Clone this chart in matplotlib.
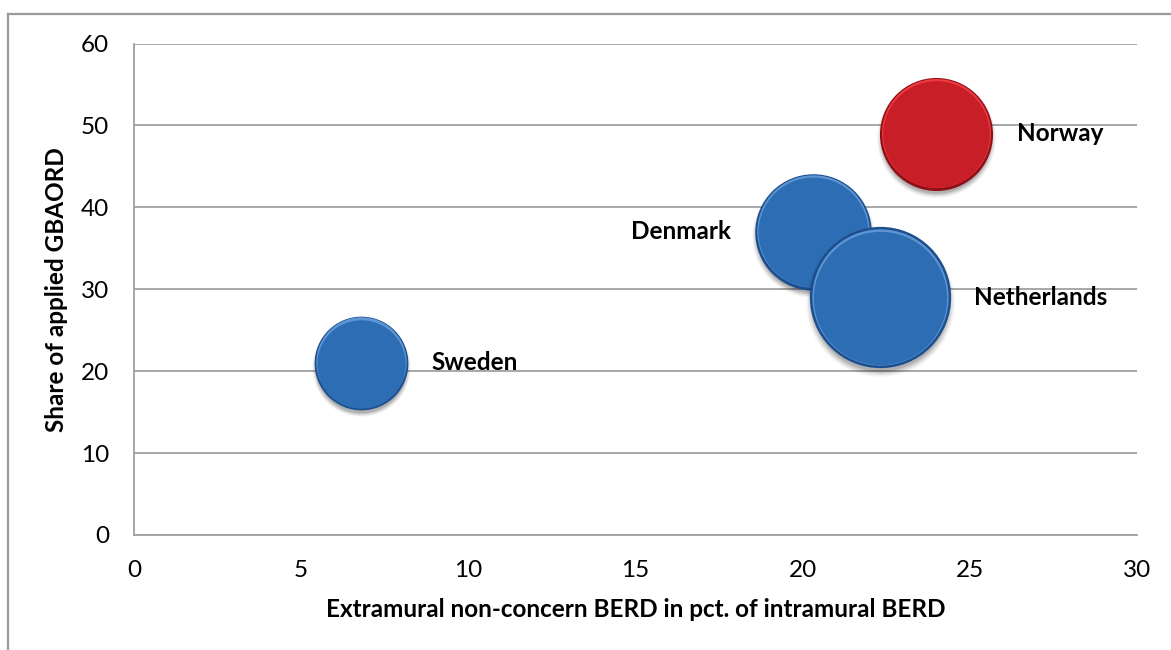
import matplotlib
matplotlib.use("Agg")
import matplotlib.pyplot as plt
import numpy as np
from matplotlib.transforms import offset_copy
from matplotlib.lines import Line2D

plt.rcParams['font.family'] = ['Lato', 'DejaVu Sans']

# data
countries = ['Sweden', 'Denmark', 'Netherlands', 'Norway']
extramural = [6.8, 20.3, 22.3, 24.0]     # x: pct. of intramural BERD
applied = [21.0, 37.0, 29.0, 49.0]       # y: share of applied GBAORD
bubble = [22, 34, 50, 32]                # bubble size (area)
label_side = ['right', 'left', 'right', 'right']
colours = ['blue', 'blue', 'blue', 'red']

palette = {
    'blue': {'edge': '#1d4f8e', 'face': '#2d6db4', 'light': '#5d95d3'},
    'red': {'edge': '#8f1016', 'face': '#c81e27', 'light': '#ee3a40'},
}

fig = plt.figure(figsize=(11.71, 6.5), dpi=100)
ax = fig.add_axes([0.1144, 0.177, 0.8566, 0.756])

x = np.array(extramural)
y = np.array(applied)
s = np.array(bubble) * 207.0   # marker area in pt^2

# outer chart frame (cut off at right and bottom like the reference)
fig.add_artist(Line2D([8 / 1171, 8 / 1171], [1 - 14 / 650, 0], transform=fig.transFigure,
                      color='#9a9a9a', lw=1.6))
fig.add_artist(Line2D([8 / 1171, 1], [1 - 14 / 650, 1 - 14 / 650], transform=fig.transFigure,
                      color='#9a9a9a', lw=1.6))

def shifted(dy):
    return offset_copy(ax.transData, fig=fig, x=0, y=dy, units='points')

# draw bubbles one by one so later ones overlap earlier ones
for i in range(len(countries)):
    c = palette[colours[i]]
    z = 3 + i * 10
    # soft shadow
    for f, a in [(1.10, 0.05), (1.05, 0.07), (1.0, 0.10), (0.95, 0.12)]:
        ax.scatter([x[i]], [y[i]], s=s[i] * f, color='black', alpha=a, lw=0,
                   transform=shifted(-3), zorder=z)
    ax.scatter([x[i]], [y[i]], s=s[i], color=c['edge'], lw=0, zorder=z + 1)
    ax.scatter([x[i]], [y[i]], s=s[i] * 0.93, color=c['light'], lw=0,
               transform=shifted(0.6), zorder=z + 2)
    ax.scatter([x[i]], [y[i]], s=s[i] * 0.89, color=c['face'], lw=0,
               transform=shifted(-0.4), zorder=z + 3)
    ax.scatter([x[i]], [y[i]], s=s[i] * 0.80, color=c['face'], lw=0,
               transform=shifted(-0.8), zorder=z + 4)

    r_pt = np.sqrt(s[i]) / 2
    if label_side[i] == 'right':
        ax.annotate(countries[i], (x[i], y[i]), xytext=(r_pt + 17, 0), textcoords='offset points',
                    ha='left', va='center', fontsize=17.5, fontweight='bold', zorder=100)
    else:
        ax.annotate(countries[i], (x[i], y[i]), xytext=(-r_pt - 17, 0), textcoords='offset points',
                    ha='right', va='center', fontsize=17.5, fontweight='bold', zorder=100)

ax.set_xlim(0, 30)
ax.set_ylim(0, 60)
ax.set_xticks(range(0, 31, 5))
ax.set_yticks(range(0, 61, 10))
ax.tick_params(length=0, labelsize=17.5, pad=18)
ax.tick_params(axis='x', pad=18)
ax.grid(axis='y', color='#a0a0a0', lw=1.3, zorder=0)
ax.set_axisbelow(True)
for side in ['top', 'right']:
    ax.spines[side].set_visible(False)
for side in ['left', 'bottom']:
    ax.spines[side].set_color('#a0a0a0')
    ax.spines[side].set_linewidth(1.3)

ax.set_xlabel('Extramural non-concern BERD in pct. of intramural BERD', fontsize=17.5,
              fontweight='bold', labelpad=12)
ax.set_ylabel('Share of applied GBAORD', fontsize=17.5, fontweight='bold', labelpad=9)

fig.savefig('out.png', dpi=100)
